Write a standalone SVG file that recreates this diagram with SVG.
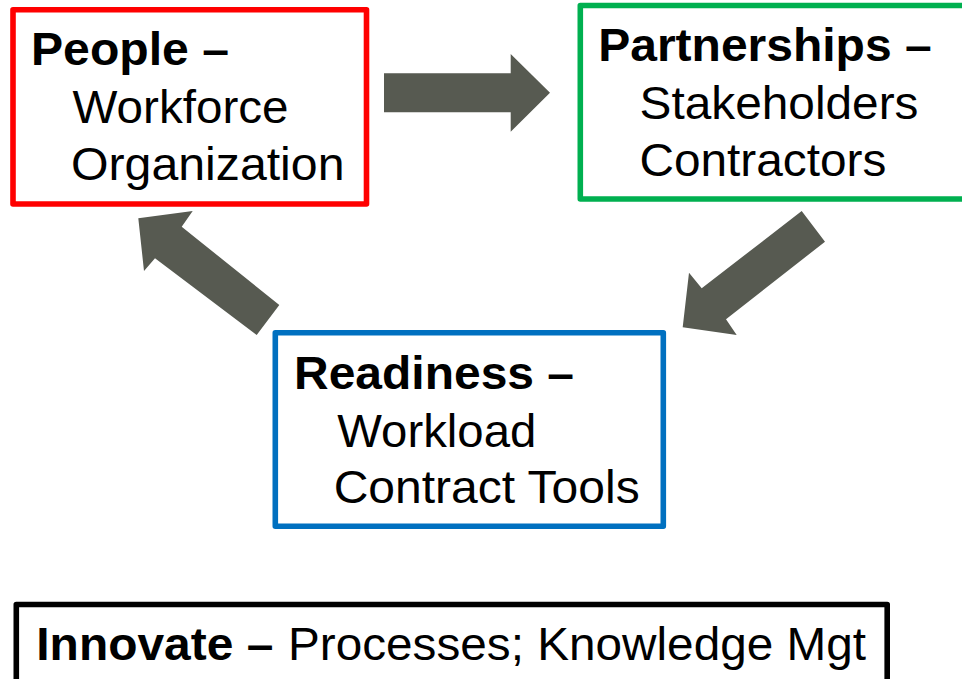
<svg xmlns="http://www.w3.org/2000/svg" width="962" height="679" viewBox="0 0 962 679">
<style>
.box{fill:#ffffff;stroke-width:5.6;stroke-linejoin:round}
.t{font-family:"Liberation Sans",Arial,sans-serif;font-size:47px;fill:#000000}
.b{font-weight:bold}
.arrow{fill:#575a51;stroke:none}
</style>
<rect x="0" y="0" width="962" height="679" fill="#ffffff"/>
<g id="people">
<rect class="box" x="13" y="9.7" width="353.5" height="194.3" stroke="#ff0000"/>
<text class="t b" x="31" y="65" textLength="198" lengthAdjust="spacingAndGlyphs">People –</text>
<text class="t" x="72.5" y="122.7" textLength="216" lengthAdjust="spacingAndGlyphs">Workforce</text>
<text class="t" x="71" y="180" textLength="273.5" lengthAdjust="spacingAndGlyphs">Organization</text>
</g>
<g id="partnerships">
<rect class="box" x="580.3" y="5.5" width="420" height="193.5" stroke="#00b050"/>
<text class="t b" x="598.2" y="61" textLength="333.5" lengthAdjust="spacingAndGlyphs">Partnerships –</text>
<text class="t" x="639.5" y="118.5" textLength="279" lengthAdjust="spacingAndGlyphs">Stakeholders</text>
<text class="t" x="639.4" y="176" textLength="247" lengthAdjust="spacingAndGlyphs">Contractors</text>
</g>
<g id="readiness">
<rect class="box" x="275.3" y="332.8" width="388" height="193.4" stroke="#0070c0"/>
<text class="t b" x="294" y="389" textLength="280" lengthAdjust="spacingAndGlyphs">Readiness –</text>
<text class="t" x="337.3" y="446.7" textLength="199" lengthAdjust="spacingAndGlyphs">Workload</text>
<text class="t" x="333.7" y="503" textLength="306" lengthAdjust="spacingAndGlyphs">Contract Tools</text>
</g>
<g id="innovate">
<rect class="box" x="16.3" y="604.5" width="870.9" height="110" stroke="#000000"/>
<text class="t b" x="36.3" y="660" textLength="237" lengthAdjust="spacingAndGlyphs">Innovate –</text>
<text class="t" x="288" y="660" textLength="578" lengthAdjust="spacingAndGlyphs">Processes; Knowledge Mgt</text>
</g>
<g id="connectors">
<polygon class="arrow" points="384,73.3 510.7,73.3 510.7,54 550,92.7 510.7,131.7 510.7,112.3 384,112.3"/>
<polygon class="arrow" points="801.7,211 825,241.7 726,319.3 736.7,335 682.7,327.3 689,272.7 701.7,288.3"/>
<polygon class="arrow" points="138.3,218.3 192.7,211 181.7,226.7 279.3,305 256.7,335 155,258.3 144,271"/>
</g>
</svg>
